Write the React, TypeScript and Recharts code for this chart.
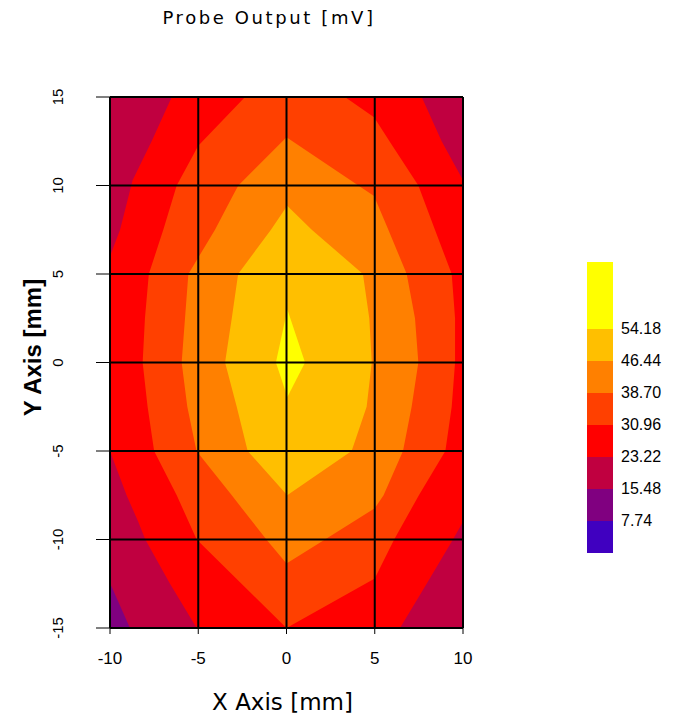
import { Area, ComposedChart, Legend, ReferenceLine, XAxis, YAxis } from "recharts";

const xTicks = [-10, -5, 0, 5, 10];
const yTicks = [15, 10, 5, 0, -5, -10, -15];

// contour levels in mV (low -> high) and the fill of each band
const levels = [7.74, 15.48, 23.22, 30.96, 38.7, 46.44, 54.18];
const bandColors = ["#4000c0", "#800080", "#c00040", "#ff0000", "#ff4000", "#ff8000", "#ffbf00", "#ffff00"];

// region where the output is above each level: x extent [left, right] per y row (mm)
const above7 = [
  { y: 15, x: [-10, 10] },
  { y: -15, x: [-10, 10] }
];
const above15 = [
  { y: 15, x: [-10, 10] },
  { y: -12.46, x: [-10, 10] },
  { y: -15, x: [-8.87, 10] }
];
const above23 = [
  { y: 15, x: [-6.5, 7.66] },
  { y: 12.5, x: [-7.64, 8.79] },
  { y: 10.3, x: [-8.72, 10] },
  { y: 7.5, x: [-9.43, 10] },
  { y: 6, x: [-10, 10] },
  { y: -5, x: [-10, 10] },
  { y: -7.5, x: [-9.06, 10] },
  { y: -9, x: [-8.4, 10] },
  { y: -10, x: [-8.0, 9.43] },
  { y: -12.5, x: [-6.6, 7.94] },
  { y: -15, x: [-5.09, 6.43] }
];
const above31 = [
  { y: 15, x: [-2.35, 3.31] },
  { y: 13.86, x: [-3.45, 4.96] },
  { y: 12.25, x: [-5.0, 6.0] },
  { y: 10, x: [-6.22, 7.47] },
  { y: 7.5, x: [-6.98, 8.41] },
  { y: 5, x: [-7.8, 9.36] },
  { y: 2.5, x: [-8.02, 9.55] },
  { y: 0, x: [-8.15, 9.55] },
  { y: -2.5, x: [-7.87, 9.36] },
  { y: -5, x: [-7.5, 9.0] },
  { y: -7.5, x: [-6.22, 7.5] },
  { y: -10, x: [-5.09, 6.1] },
  { y: -12.2, x: [-2.85, 5.0] },
  { y: -15, x: [0, 0] }
];
const above39 = [
  { y: 12.72, x: [0, 0] },
  { y: 10, x: [-2.73, 4.07] },
  { y: 9.4, x: [-3.05, 4.96] },
  { y: 7.5, x: [-4.05, 5.77] },
  { y: 5, x: [-5.56, 6.81] },
  { y: 2.5, x: [-5.75, 7.28] },
  { y: 0, x: [-5.94, 7.47] },
  { y: -2.5, x: [-5.62, 7.09] },
  { y: -5, x: [-5.1, 6.6] },
  { y: -7.5, x: [-3.1, 5.5] },
  { y: -8.24, x: [-2.53, 5.0] },
  { y: -10, x: [-1.14, 2.18] },
  { y: -11.35, x: [0, 0] }
];
const above46 = [
  { y: 8.85, x: [0.04, 0.04] },
  { y: 7.5, x: [-0.88, 1.43] },
  { y: 5, x: [-2.74, 4.33] },
  { y: 2.5, x: [-3.1, 4.69] },
  { y: 0, x: [-3.48, 4.83] },
  { y: -2.5, x: [-2.82, 4.54] },
  { y: -5, x: [-2.2, 3.69] },
  { y: -7.5, x: [0.04, 0.04] }
];
const above54 = [
  { y: 3, x: [0.05, 0.05] },
  { y: 0, x: [-0.6, 1.05] },
  { y: -1.95, x: [0.05, 0.05] }
];

const bands = [above7, above15, above23, above31, above39, above46, above54];

const sans = "'Liberation Sans', Arial, sans-serif";
const wide = "'DejaVu Sans', Verdana, sans-serif";

function YTick({ x, y, payload }: any) {
  return (
    <text x={x} y={y} dy="0.35em" textAnchor="middle" transform={`rotate(-90 ${x} ${y})`}
      fontSize={15} fontFamily={sans} fill="#000">
      {payload.value}
    </text>
  );
}

function ColorBar() {
  const top = [...bandColors].reverse();
  const tall = 67;
  const step = 32;
  return (
    <div style={{ position: "relative", width: 90, height: 300, fontFamily: sans, fontSize: 16, color: "#000" }}>
      {top.map((c, i) => (
        <div key={c} style={{
          position: "absolute", left: 0, width: 26,
          top: i === 0 ? 0 : tall + (i - 1) * step,
          height: i === 0 ? tall : step,
          background: c
        }} />
      ))}
      {levels.map((v, j) => (
        <div key={v} style={{
          position: "absolute", left: 34, lineHeight: "18px",
          top: tall + (levels.length - 1 - j) * step - 9
        }}>
          {v.toFixed(2)}
        </div>
      ))}
    </div>
  );
}

export default function App() {
  return (
    <div style={{ position: "relative", width: 666, height: 711 }}>
      <div style={{
        position: "absolute", left: 0, top: 0, width: 522, textAlign: "center",
        fontFamily: wide, fontSize: 18, lineHeight: "20px", letterSpacing: 2.6, color: "#000"
      }}>
        Probe Output [mV]
      </div>
      <ComposedChart width={666} height={711} layout="vertical"
        margin={{ top: 89, right: 211, bottom: 51, left: 0 }}>
        <XAxis type="number" dataKey="x" domain={[-10, 10]} ticks={xTicks} allowDataOverflow
          tickSize={6} tickMargin={18} stroke="#000" tick={{ fill: "#000", fontSize: 17, fontFamily: sans }}
          height={40}
          label={({ viewBox }: any) => (
            <text x={viewBox.x + viewBox.width / 2 - 4} y={viewBox.y + 82} textAnchor="middle"
              fontSize={23} fontFamily={wide} fill="#000">X Axis [mm]</text>
          )} />
        <YAxis type="number" dataKey="y" domain={[-15, 15]} ticks={yTicks} allowDataOverflow reversed
          width={102} tickSize={14} tickMargin={38} stroke="#000" tick={<YTick />}
          label={({ viewBox }: any) => {
            const cx = viewBox.x + 25;
            const cy = viewBox.y + viewBox.height / 2 - 15;
            return (
              <text x={cx} y={cy} dy="0.35em" textAnchor="middle" transform={`rotate(-90 ${cx} ${cy})`}
                fontSize={24} fontWeight="bold" fontFamily={sans} fill="#000">Y Axis [mm]</text>
            );
          }} />
        {bands.map((band, i) => (
          <Area key={i} data={band} dataKey="x" type="linear" fill={bandColors[i + 1]} fillOpacity={1}
            stroke="none" isAnimationActive={false} activeDot={false} />
        ))}
        {xTicks.map((v) => <ReferenceLine key={"x" + v} x={v} stroke="#000" strokeWidth={2} />)}
        {yTicks.map((v) => <ReferenceLine key={"y" + v} y={v} stroke="#000" strokeWidth={2} />)}
        <Legend layout="horizontal" align="center" verticalAlign="middle" content={<ColorBar />}
          wrapperStyle={{ left: 579, top: 254, width: 90, height: 300 }} />
      </ComposedChart>
    </div>
  );
}
